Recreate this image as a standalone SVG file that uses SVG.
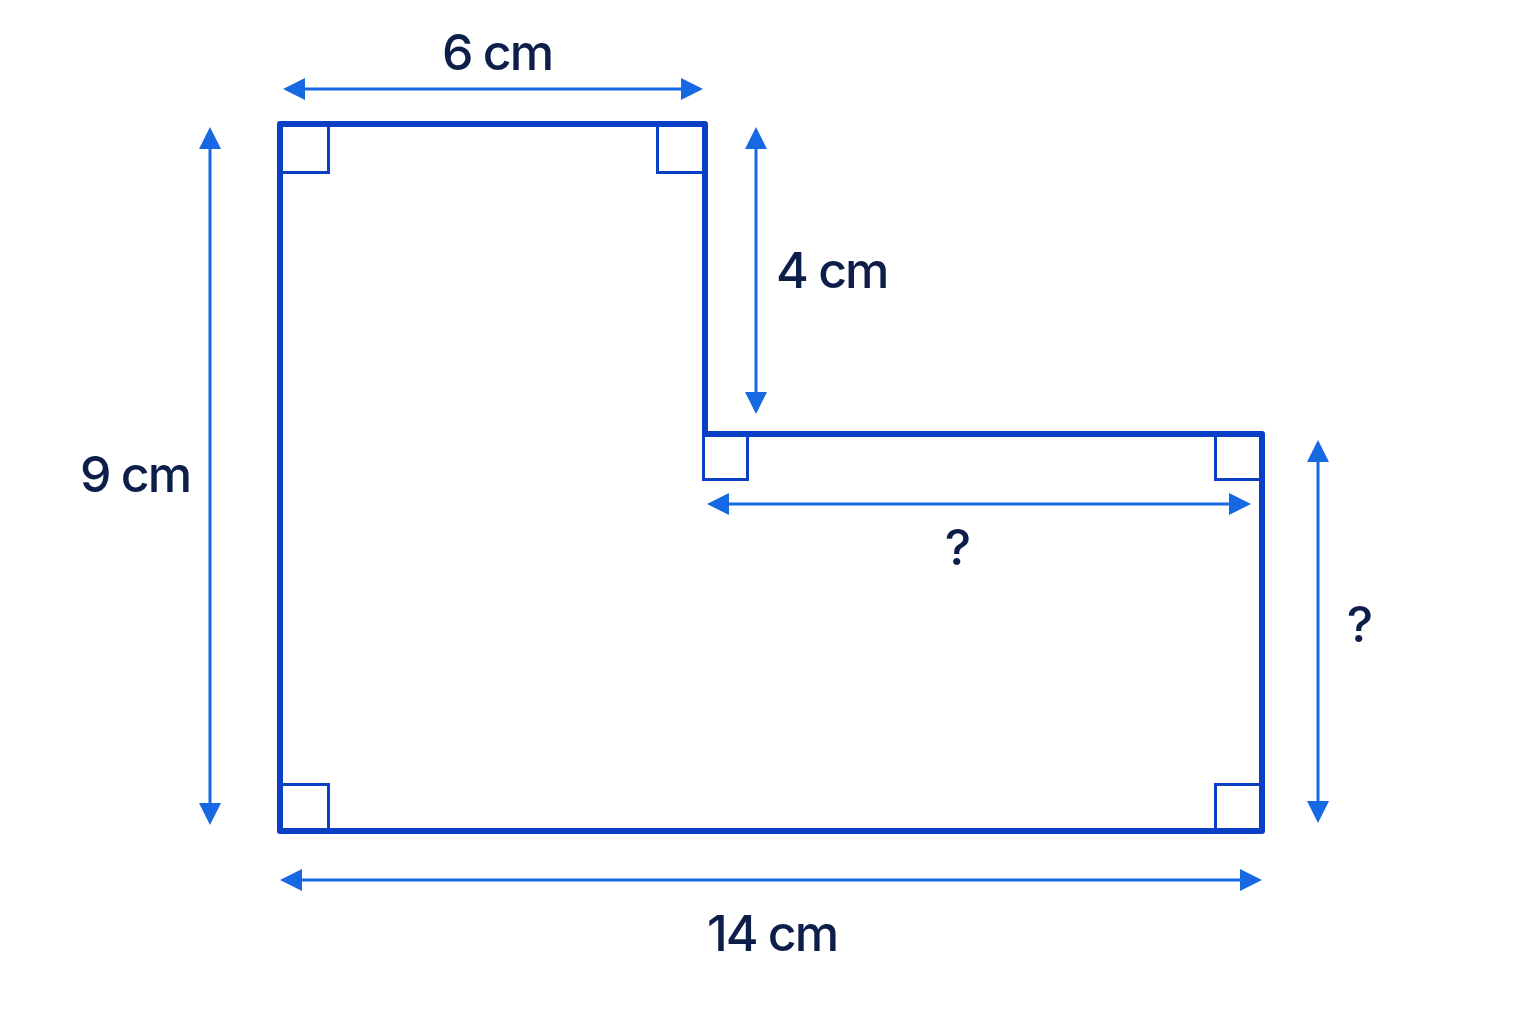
<svg xmlns="http://www.w3.org/2000/svg" width="1536" height="1024" viewBox="0 0 1536 1024">
  <style>
    .outline { fill: none; stroke: #0B3FC6; stroke-width: 6; stroke-linejoin: round; }
    .ra { fill: none; stroke: #0B3FC6; stroke-width: 3; }
    .dim { stroke: #1668E3; stroke-width: 3; fill: none; marker-start: url(#ah); marker-end: url(#ah); }
    .lbl { font-family: Inter, "Liberation Sans", sans-serif; font-size: 50px; font-weight: 500; letter-spacing: -2px; fill: #0E1E4A; }
  </style>
  <defs>
    <marker id="ah" viewBox="0 0 22 22" refX="12" refY="11" markerWidth="22" markerHeight="22" markerUnits="userSpaceOnUse" orient="auto-start-reverse">
      <path d="M0,0 L22,11 L0,22 Z" fill="#1668E3"/>
    </marker>
  </defs>
  <rect width="1536" height="1024" fill="#FFFFFF"/>
  <g id="shape">
    <path class="outline" d="M280,124 H705 V434 H1262 V831 H280 Z"/>
    <rect class="ra" x="281.5" y="125.5" width="47" height="47"/>
    <rect class="ra" x="657.5" y="125.5" width="46" height="47"/>
    <rect class="ra" x="703.5" y="435.5" width="44" height="44"/>
    <rect class="ra" x="1215.5" y="435.5" width="45" height="44"/>
    <rect class="ra" x="281.5" y="784.5" width="47" height="45"/>
    <rect class="ra" x="1215.5" y="784.5" width="45" height="45"/>
  </g>
  <g id="connectors">
    <line class="dim" x1="293" y1="89" x2="693" y2="89"/>
    <line class="dim" x1="210" y1="137" x2="210" y2="815"/>
    <line class="dim" x1="756" y1="137" x2="756" y2="404"/>
    <line class="dim" x1="717" y1="504" x2="1241" y2="504"/>
    <line class="dim" x1="1318" y1="450" x2="1318" y2="813"/>
    <line class="dim" x1="290" y1="880" x2="1252" y2="880"/>
  </g>
  <g id="label-6cm"><text class="lbl" x="497" y="70" text-anchor="middle">6 cm</text></g>
  <g id="label-4cm"><text class="lbl" x="776" y="288">4 cm</text></g>
  <g id="label-9cm"><text class="lbl" x="80" y="492">9 cm</text></g>
  <g id="label-q1"><text class="lbl" x="957" y="565" text-anchor="middle">?</text></g>
  <g id="label-q2"><text class="lbl" x="1359" y="642" text-anchor="middle">?</text></g>
  <g id="label-14cm"><text class="lbl" x="772" y="951" text-anchor="middle">14 cm</text></g>
</svg>
